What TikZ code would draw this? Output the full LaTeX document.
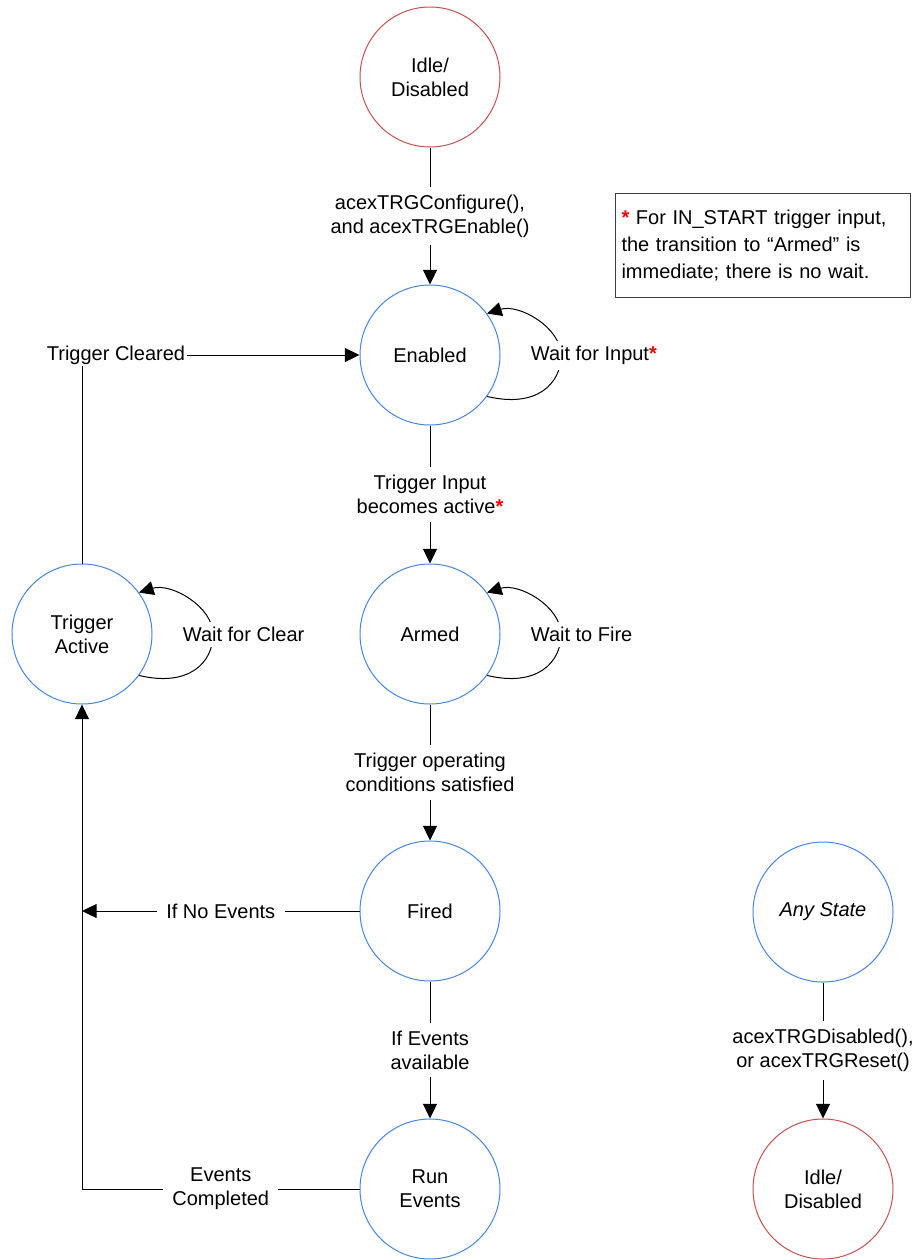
\documentclass[tikz,border=0pt]{standalone}
\usepackage{fontspec}
\setmainfont{Liberation Sans}
\usetikzlibrary{arrows.meta}

\definecolor{stateblue}{RGB}{70,132,228}
\definecolor{statered}{RGB}{200,80,78}

\newcommand{\redstar}{\textcolor{red}{\bfseries *}}

\tikzstyle{state} = [circle,draw,line width=0.75pt,minimum size=105pt,inner sep=0pt,align=center]
\tikzstyle{edge} = [draw,line width=0.75pt,-]
\tikzstyle{arrowdecorate} = [-{Triangle[length=11pt,width=10.5pt]},line width=0.75pt]
\tikzstyle{transition} = [fill=white,align=center,inner xsep=7pt,inner ysep=6pt]
\tikzstyle{wait} = [fill=white,anchor=west,inner sep=4pt,xshift=-27pt]
\tikzstyle{note} = [draw=black!75,line width=0.75pt,align=left,text width=212pt,inner xsep=4.5pt,minimum height=78pt,font=\fontsize{15}{20}\selectfont]

\begin{document}
\begin{tikzpicture}[x=0.75pt,y=-0.75pt,font=\fontsize{15}{18}\selectfont]
      \useasboundingbox (0,0) rectangle (919,1260);
      %nodes
      \foreach \nodename/\x/\y/\col/\txt in {
        idle/430/77/statered/{Idle/\\Disabled},
        enabled/430/355/stateblue/Enabled,
        armed/430/634/stateblue/Armed,
        fired/430/911/stateblue/Fired,
        run/430/1189/stateblue/{Run\\Events},
        active/82/634/stateblue/{Trigger\\Active},
        any/823/912/stateblue/{\textit{Any State}},
        reset/823/1189/statered/{Idle/\\Disabled}}
      {
        \node[state, draw=\col] (\nodename) at (\x,\y) {\txt};
      };
      \node[inner sep=1pt] (cleared) at (116,355) {Trigger Cleared};
      \node[note, anchor=north west] (footnote) at (615,193)
        {\redstar{} For IN\_START trigger input,\\the transition to “Armed” is\\immediate; there is no wait.};

      %transitions
      \path
      \foreach \startnode/\endnode/\txt in {
        idle/enabled/{acexTRGConfigure(),\\and acexTRGEnable()},
        enabled/armed/{Trigger Input\\becomes active\redstar},
        armed/fired/{Trigger operating\\conditions satisfied},
        fired/run/{If Events\\available},
        any/reset/{acexTRGDisabled(),\\or acexTRGReset()}}
      {
        (\startnode) edge[arrowdecorate] node[transition] {\txt} (\endnode)
      };

      %self loops
      \foreach \nodename/\txt in {
        enabled/{Wait for Input\redstar},
        armed/Wait to Fire,
        active/Wait for Clear}
      {
        \draw[arrowdecorate] (\nodename.-36) .. controls +(50,12) and +(0,28) .. ++(74,-41)
          node[wait] {\txt} .. controls +(0,-28) and +(32,-10) .. (\nodename.36);
      };

      %back to trigger active
      \draw[arrowdecorate] (fired) -- node[transition] {If No Events} (fired -| active);
      \draw[arrowdecorate] (run) -- node[transition] {Events\\Completed} (run -| active) -- (active);
      \path[edge] (active) -- (active.north |- cleared.south);
      \draw[arrowdecorate] (cleared) -- (enabled);
\end{tikzpicture}
\end{document}
